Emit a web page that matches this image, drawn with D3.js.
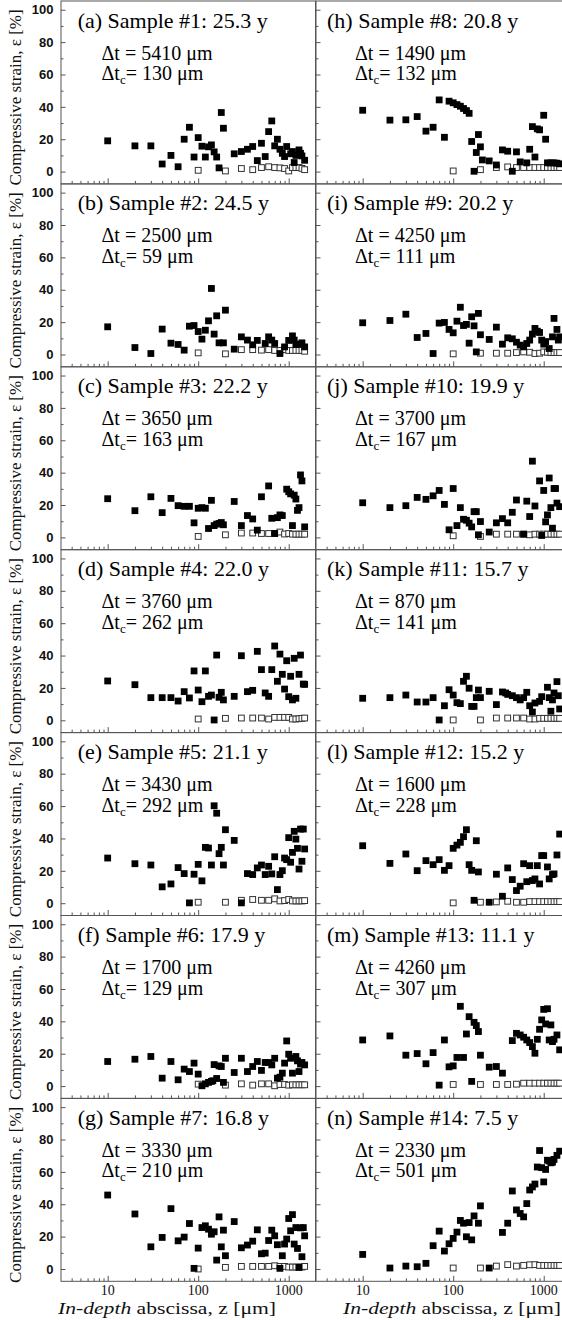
<!DOCTYPE html>
<html><head><meta charset="utf-8">
<script src="https://cdn.jsdelivr.net/npm/d3@7/dist/d3.min.js"></script>
<style>body{margin:0;background:#fff}svg{display:block}</style>
</head><body><svg id="c" width="562" height="1320"></svg>
<script>
// ---------- data ----------
const panelLetters = ["a","b","c","d","e","f","g","h","i","j","k","l","m","n"];
const sampleNumbers = [1,2,3,4,5,6,7,8,9,10,11,12,13,14];
const sampleAges = ["25.3","24.5","22.2","22.0","21.1","17.9","16.8","20.8","20.2","19.9","15.7","15.2","11.1","7.5"];
const thicknessDt = [5410,2500,3650,3760,3430,1700,3330,1490,4250,3700,870,1600,4260,2330];
const thicknessDtc = [130,59,163,262,292,129,210,132,111,167,141,228,307,501];

const xMajorTicks = [10,100,1000];
const xMinorTicks = [4,5,6,7,8,9,20,30,40,50,60,70,80,90,200,300,400,500,600,700,800,900];
const yMajorTicks = [0,20,40,60,80,100];
const yMinorTicks = [10,30,50,70,90];

// depths (µm) of the open-square series
const openDepths = [100,200,300,400,500,600,700,800,900,1000,1100,1200,1300,1400,1500];

// filled squares: [depth z (µm), strain ε (%)]
const filledA = [[10,19],[20,15.9],[30,15.9],[40,4.7],[50,10],[60,3],[70,20],[80,27.4],[90,9],[100,21],[110,15.7],[120,9],[130,15.3],[140,16.5],[150,12.2],[160,9],[170,2.3],[180,36.5],[190,26.8],[250,11],[300,12.4],[350,13.8],[400,15.5],[450,6.8],[500,17.5],[550,9.3],[600,24.7],[650,31.3],[700,15.9],[750,20],[800,13.8],[850,11.3],[900,9.3],[950,15.5],[1050,11],[1100,12.4],[1150,5.6],[1200,10],[1300,13.4],[1350,11.3],[1400,9.7],[1500,7]];
const filledB = [[10,17.1],[20,4.3],[30,0.6],[40,15.7],[50,7],[60,6.2],[70,2.7],[80,17.5],[90,17.9],[100,14.2],[110,9.5],[120,15],[130,20.8],[140,40.8],[150,12.6],[160,23.9],[170,7.2],[190,7.2],[200,27.4],[250,3.3],[300,10.9],[350,8.9],[400,6],[450,8.7],[550,6.8],[600,10.9],[650,8.9],[700,6.8],[800,0.6],[900,4.7],[1000,8.7],[1100,11.5],[1150,8.9],[1200,6.2],[1300,6.4],[1400,7.2],[1500,4.7]];
const filledC = [[10,23.9],[20,16.5],[30,25.1],[40,15.3],[50,24.1],[60,19.6],[70,19.2],[80,19.2],[90,9],[100,18],[110,18.4],[120,18],[130,5.5],[140,22.9],[150,7.3],[160,8.2],[170,8.6],[180,9.2],[190,7.8],[250,22.2],[300,7.3],[350,13.5],[400,11.4],[450,4.5],[500,25.1],[600,31.8],[650,11.8],[700,2.4],[750,12.2],[800,13.9],[850,13.5],[950,29.8],[1000,28.2],[1050,26.9],[1100,7.3],[1150,26.1],[1200,23.7],[1250,16.7],[1300,18.4],[1350,38.6],[1400,34.9],[1500,6.5]];
const filledD = [[10,24.3],[20,22],[30,14],[40,14],[50,14],[60,11.9],[70,17.7],[80,13.8],[90,30.5],[100,18.7],[110,11.5],[120,30.5],[130,14.8],[140,15.6],[150,0.2],[160,40.3],[170,14.2],[180,17.3],[190,12.6],[250,14.8],[300,39.9],[350,17.7],[400,18.5],[450,42.6],[500,31.3],[550,16.9],[600,14.8],[650,31.3],[700,45.9],[750,24.1],[800,40.9],[850,28.4],[900,19.3],[950,36.8],[1000,14.6],[1050,27.2],[1100,12.6],[1150,38.3],[1200,13.6],[1300,28.4],[1350,40.3],[1450,22.4],[1500,22.2]];
const filledE = [[10,27.9],[20,24.4],[30,23.6],[40,10.1],[50,11.9],[60,22],[70,18.3],[80,0.2],[90,17.9],[100,24],[110,13.8],[120,34.5],[130,34.1],[140,23.6],[150,60.2],[160,55.6],[170,30.6],[180,34.5],[190,23.6],[200,45.4],[250,38.8],[300,0.2],[350,18.3],[400,17.7],[450,21.8],[500,23.6],[550,17.7],[600,22.8],[650,18.1],[700,28.7],[750,8.4],[800,17.7],[850,20.1],[900,27.9],[950,26.9],[1000,40.5],[1050,25.3],[1100,31.4],[1150,44.4],[1200,39.6],[1250,33.9],[1300,21.1],[1350,45.8],[1400,25.9],[1450,45.8],[1500,33.5]];
const filledF = [[10,15.2],[20,16.6],[30,18.3],[40,4.9],[50,15.2],[60,3.9],[70,10.5],[80,9],[90,14.2],[100,7.4],[110,0.2],[120,1.4],[130,2.3],[140,2.9],[145,3.3],[150,13.3],[160,4.7],[170,12.5],[180,12.1],[190,2.3],[200,17.2],[250,8.4],[300,17.2],[350,9],[400,12.1],[450,15.2],[500,9.7],[550,14.6],[600,14.6],[650,13.1],[700,17.2],[750,4.9],[800,5.5],[850,8],[900,14.2],[950,27.9],[1000,19.7],[1050,17.2],[1100,8],[1200,18.3],[1250,15.6],[1300,9],[1350,13.6],[1400,14.6],[1500,13.1]];
const filledG = [[10,45.7],[20,34],[30,13.7],[40,19.5],[50,37.3],[60,17.4],[70,19.7],[80,28.1],[90,0.4],[100,12.9],[110,25.6],[120,26.7],[130,24.6],[140,21.5],[150,23],[160,5.5],[170,32.2],[180,13.7],[190,24],[200,8.2],[250,29.3],[300,13.1],[350,14.8],[400,17.2],[450,24.2],[500,9.4],[550,9.8],[600,17.6],[650,24],[700,20.5],[750,15],[800,0.4],[850,8.2],[900,15.4],[950,18.5],[1000,31.2],[1050,23.6],[1100,33.6],[1150,15.4],[1200,25.6],[1250,12.7],[1300,1],[1350,25.4],[1400,7.6],[1450,25.6],[1500,20.5]];
const filledH = [[10,37.9],[20,31.8],[30,32],[40,34],[50,25],[60,27.4],[70,44.3],[80,21.2],[90,43.5],[100,42.5],[110,41.4],[120,40.4],[130,39],[140,37.7],[150,36],[160,18.6],[170,0.2],[180,11.8],[190,22.9],[200,15.3],[210,7.2],[250,6.6],[300,4.1],[350,13.4],[400,12.6],[450,0.2],[500,12.2],[550,6],[650,5.4],[700,13.8],[750,27.8],[800,9],[850,26.4],[900,25.8],[1000,34.8],[1050,20],[1100,5.4],[1200,5.4],[1300,5.4],[1400,5.2],[1500,4.8]];
const filledI = [[10,19.6],[20,21],[30,24.9],[40,10.5],[50,13],[60,0.6],[70,19.4],[80,19.8],[90,15.5],[100,13.4],[110,20.6],[120,29.2],[130,17.9],[140,18.6],[150,7],[160,23.3],[170,17.7],[180,1.6],[190,25.4],[200,12.2],[250,9.3],[300,16.9],[350,6.4],[400,10.3],[450,9.7],[500,7.6],[550,5.8],[600,4.7],[650,6.8],[700,8.9],[750,12.6],[800,16.1],[850,14.4],[900,13.6],[950,8.9],[1000,6.4],[1050,8],[1150,3.7],[1250,10.9],[1300,22.3],[1400,15.5],[1450,8.9],[1500,10.9]];
const filledJ = [[10,21.4],[20,18.4],[30,19.6],[40,24.7],[50,23.5],[60,25.7],[70,29],[80,20.4],[90,4.7],[100,30.2],[110,7.3],[120,18.4],[130,11.2],[140,10.6],[150,8.8],[160,6.5],[170,15.9],[180,15.9],[190,1.6],[200,9.8],[250,3.3],[300,9],[350,11.6],[400,9],[450,15.5],[500,23.1],[600,2],[650,22.4],[700,12.9],[750,47.1],[800,19.4],[900,34.9],[950,1.2],[1000,29],[1050,9.6],[1100,13.9],[1150,36.7],[1200,18.4],[1250,5.7],[1300,30.2],[1350,30.2],[1400,21.2],[1500,19]];
const filledK = [[10,13.6],[20,14],[30,15.6],[40,11.3],[50,11.3],[60,14],[70,0.2],[80,9],[90,18.9],[100,15.6],[110,10.9],[120,10.3],[130,24.1],[140,27.2],[150,19.8],[160,8.6],[170,8.6],[180,14],[190,18.7],[200,14],[250,17.9],[300,9.7],[350,17.5],[380,16.9],[400,16],[450,15.2],[500,14],[550,12.6],[600,14],[650,17.3],[700,9],[750,5.1],[800,10.7],[900,11.7],[950,14.6],[1100,20.4],[1150,14],[1200,5.6],[1250,12.6],[1300,16.9],[1400,23.9],[1450,15.2],[1500,7]];
const filledL = [[10,35.5],[20,24.6],[30,30.4],[40,20.1],[50,26.3],[60,23.8],[70,26.9],[80,20.3],[90,23.2],[100,33.9],[110,35.9],[120,37.6],[130,41.1],[140,45.4],[150,23.8],[160,20.3],[170,1.8],[180,38.6],[190,19.3],[250,0.6],[300,17.9],[350,4.3],[400,21.8],[450,14.6],[500,7.8],[550,10.5],[600,24.4],[650,13.3],[700,23.2],[750,14],[800,15],[850,23.2],[900,11.9],[950,29.4],[1000,29.4],[1100,22.4],[1150,15],[1250,17.7],[1300,18.1],[1400,29.8],[1500,42.7]];
const filledM = [[10,28.5],[20,31],[30,19.1],[40,20.1],[50,13.8],[60,20.7],[70,0.6],[80,28.5],[90,11.9],[100,12.5],[110,17.7],[120,49.3],[130,17.7],[140,32.2],[150,42.9],[160,2.9],[170,39.4],[180,37.4],[190,33.7],[200,19.1],[250,11.7],[300,12.1],[350,8],[450,28.1],[500,32.6],[550,31.6],[600,30.2],[650,28.5],[700,26.9],[750,24.4],[800,20.3],[850,28.9],[900,35.1],[950,40.9],[1000,47.4],[1050,38.4],[1100,47.8],[1150,28.5],[1200,37.8],[1250,27.5],[1300,28.9],[1400,31.6],[1500,22.4]];
const filledN = [[10,9],[20,0.6],[30,1.8],[40,1.4],[50,3.5],[60,14.4],[70,23.4],[80,11.1],[90,15.6],[100,18.9],[110,22.8],[120,30],[130,28.3],[140,19.9],[150,28.7],[160,18],[170,32.8],[190,28.3],[200,39],[250,0.6],[350,22.6],[400,28.3],[450,48.2],[500,36.5],[550,34.3],[600,32.2],[650,40.4],[700,48.8],[750,50.7],[800,52.5],[850,63],[900,73.2],[950,62.6],[1000,53.8],[1050,61.5],[1100,67.2],[1150,66.7],[1200,65.6],[1250,66],[1300,67.7],[1400,70.2],[1500,72.8]];

// open squares: ε (%) at openDepths
const openA = [0.8,0.4,1.9,1.2,2.5,3,2.5,2.3,1.9,0.4,2.5,2.5,2.5,2,1.2];
const openB = [1,0.4,3,3,2.7,3,2.5,2.5,3,2.5,2.5,2.5,2.5,2.5,2];
const openC = [0.6,1.6,2.7,2.7,2.4,2.4,2.4,3.3,2.1,2.4,2,2,2,2,2];
const openD = [0.8,1.2,1.4,1.4,1.4,0.8,1.8,1.8,1.8,1.8,0.8,0.8,1,1.2,1.4];
const openE = [0.6,0.6,1.8,2.3,1.8,1.8,2.7,1.4,1.6,2.3,1.4,1.4,1.4,1.4,1.6];
const openF = [1.2,0.6,1.4,0.6,1.4,1.4,0.2,1,1,0.6,0.8,0.8,0.8,0.8,0.8];
const openG = [0,1,1.6,1.6,1.6,1.6,2,1.6,1.6,1.2,1.2,1.2,1.2,1.2,1.6];
const openH = [0.4,1.2,2.5,2.9,2.5,2.5,2.5,2.5,2.5,2.5,2.5,2.5,2.5,2.5,2.5];
const openI = [0.4,0.8,0.8,0.8,1.2,1.6,1.4,0.6,0.8,1.6,1.4,1.2,1.2,1.2,1.2];
const openJ = [1,0.6,2,2,2,2,1.6,2,2,2,2,2,2,2,2];
const openK = [0.2,0.2,1.4,1.4,1.4,1.4,0.8,0.8,1.2,1.2,1.2,1.2,1.2,1.2,1.2];
const openL = [0.2,0.6,0.8,1.2,0.6,0.6,1,1,1,1,1,1,1,1,1];
const openM = [1,1,1,1,1.2,1.8,1.8,1.8,1.8,1.8,1.8,1.8,1.8,1.8,1.8];
const openN = [0.6,0.6,1.8,2.7,1.8,2.2,2.6,2.7,2.2,2.2,2.2,2.2,2.2,2.2,2.2];

const filledSeries = [filledA,filledB,filledC,filledD,filledE,filledF,filledG,filledH,filledI,filledJ,filledK,filledL,filledM,filledN];
const openSeries = [openA,openB,openC,openD,openE,openF,openG,openH,openI,openJ,openK,openL,openM,openN];

// ---------- layout ----------
const colLeft = [61, 316];
const colW = 254.5;
const rowTop0 = 1;
const rowH = 182.9;
const xDomain = [3.05, 1977];
const yDomain = [-7.6, 105.4];
const serif = "'Liberation Serif','Times New Roman',Times,serif";
const sans = "'Liberation Sans',Arial,Helvetica,sans-serif";
const frameColor = "#555";

const svg = d3.select("#c");

panelLetters.forEach((letter, i) => {
  const col = i < 7 ? 0 : 1;
  const row = i % 7;
  const x0 = colLeft[col];
  const top = rowTop0 + row * rowH;
  const bottom = top + rowH;
  const x = d3.scaleLog().domain(xDomain).range([x0, x0 + colW]);
  const y = d3.scaleLinear().domain(yDomain).range([bottom, top]);
  const g = svg.append("g");

  // y ticks (inward)
  const yMaj = g.append("g").attr("transform", `translate(${x0},0)`)
    .call(d3.axisRight(y).tickValues(yMajorTicks).tickSize(4.5).tickFormat(""));
  const yMin = g.append("g").attr("transform", `translate(${x0},0)`)
    .call(d3.axisRight(y).tickValues(yMinorTicks).tickSize(2.5).tickFormat(""));
  // x ticks (inward from bottom)
  const xMaj = g.append("g").attr("transform", `translate(0,${bottom})`)
    .call(d3.axisTop(x).tickValues(xMajorTicks).tickSize(5.5).tickFormat(""));
  const xMin = g.append("g").attr("transform", `translate(0,${bottom})`)
    .call(d3.axisTop(x).tickValues(xMinorTicks).tickSize(3).tickFormat(""));
  [yMaj, yMin, xMaj, xMin].forEach(a => {
    a.select(".domain").remove();
    a.selectAll("line").attr("stroke", frameColor).attr("stroke-width", 1);
  });

  // frame
  g.append("rect").attr("x", x0).attr("y", top).attr("width", colW).attr("height", rowH)
    .attr("fill", "none").attr("stroke", frameColor).attr("stroke-width", 1);

  // y tick labels + title on the left column
  if (col === 0) {
    g.selectAll(".ylab").data(yMajorTicks).join("text")
      .attr("x", 53.5).attr("y", d => y(d)).attr("dy", "0.36em")
      .attr("text-anchor", "end").attr("font-family", sans).attr("font-weight", "bold")
      .attr("font-size", 13).attr("fill", "#111").text(d => d);
    g.append("text")
      .attr("transform", `translate(20.5,${top + rowH / 2 + 5}) rotate(-90)`)
      .attr("text-anchor", "middle").attr("font-family", serif).attr("font-size", 17)
      .attr("fill", "#111").text("Compressive strain, \u03B5 [%]");
  }

  // x tick labels + axis title on bottom row
  if (row === 6) {
    g.selectAll(".xlab").data(xMajorTicks).join("text")
      .attr("x", d => x(d)).attr("y", bottom + 13.5)
      .attr("text-anchor", "middle").attr("font-family", serif).attr("font-size", 14)
      .attr("fill", "#111").text(d => d);
    const t = g.append("text").attr("x", col === 0 ? x0 + 106 : x0 + 136).attr("y", bottom + 32.5)
      .attr("text-anchor", "middle").attr("font-family", serif).attr("font-size", 16.5)
      .attr("textLength", 218).attr("lengthAdjust", "spacingAndGlyphs").attr("fill", "#111");
    t.append("tspan").attr("font-style", "italic").text("In-depth");
    t.append("tspan").text(" abscissa, z [\u03BCm]");
  }

  // panel annotations
  const tx = col === 0 ? x0 + 16.7 : x0 + 11;
  g.append("text").attr("x", tx).attr("y", top + 26.5)
    .attr("font-family", serif).attr("font-size", 22).attr("fill", "#000")
    .text(`(${letter}) Sample #${sampleNumbers[i]}: ${sampleAges[i]} y`);
  const dx = col === 0 ? x0 + 40.5 : x0 + 39;
  g.append("text").attr("x", dx).attr("y", top + 58.5)
    .attr("font-family", serif).attr("font-size", 20).attr("fill", "#000")
    .text(`\u0394t = ${thicknessDt[i]} \u03BCm`);
  const t2 = g.append("text").attr("x", dx).attr("y", top + 79)
    .attr("font-family", serif).attr("font-size", 20).attr("fill", "#000");
  t2.append("tspan").text("\u0394t");
  t2.append("tspan").attr("font-size", 13).attr("dy", 4).text("c");
  t2.append("tspan").attr("dy", -4).text(`= ${thicknessDtc[i]} \u03BCm`);

  // open squares
  const openPts = openDepths.map((z, k) => [z, openSeries[i][k]]);
  const so = 5.8;
  g.selectAll(".open").data(openPts).join("rect")
    .attr("x", d => x(d[0]) - so / 2).attr("y", d => y(d[1]) - so / 2)
    .attr("width", so).attr("height", so)
    .attr("fill", "#fff").attr("stroke", "#333").attr("stroke-width", 1);

  // filled squares
  const sf = 6.8;
  g.selectAll(".filled").data(filledSeries[i]).join("rect")
    .attr("x", d => x(d[0]) - sf / 2).attr("y", d => y(d[1]) - sf / 2)
    .attr("width", sf).attr("height", sf).attr("fill", "#000");
});
</script>
</body></html>
